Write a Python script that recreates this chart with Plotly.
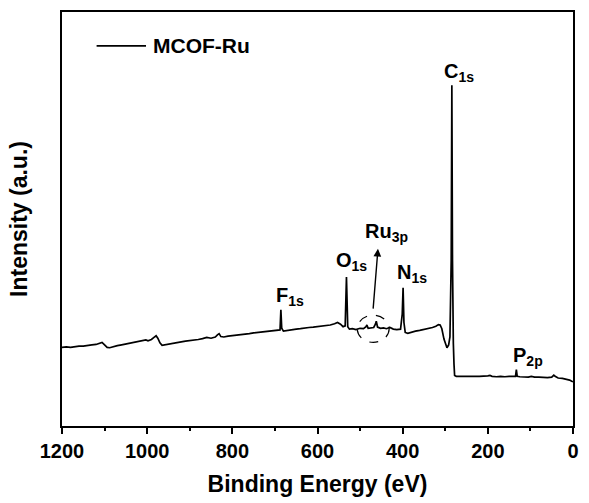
import plotly.graph_objects as go

# Binding energy (eV) and intensity (a.u., % of plot height)
energy = [1200, 1190, 1180, 1170, 1160, 1150, 1140, 1130, 1120, 1112, 1106, 1100, 1094, 1088,
          1080, 1070, 1060, 1050, 1040, 1030, 1020, 1010, 1003, 998, 990, 984, 979, 975, 970,
          965, 958, 950, 940, 930, 920, 910, 900, 890, 880, 870, 860, 850, 840, 835, 831, 827,
          820, 810, 800, 790, 780, 770, 760, 750, 740, 730, 720, 710, 700, 692, 688, 686, 684,
          680, 670, 660, 650, 640, 630, 620, 610, 600, 590, 580, 570, 560, 553, 546, 540, 535,
          532, 529, 525, 518, 510, 500, 492, 486, 484, 481, 475, 468, 464, 462, 459, 452, 445,
          438, 430, 422, 414, 405, 401, 399, 397, 394, 388, 380, 370, 360, 350, 340, 330, 322,
          316, 312, 308, 303, 299, 296, 292, 289, 286, 284.5, 283, 282, 281, 279.5, 278, 274,
          260, 240, 220, 200, 195, 190, 180, 170, 160, 150, 140, 135, 133, 131, 125, 115, 105,
          98, 90, 80, 70, 60, 50, 45, 42, 35, 25, 15, 8, 3, 0]
intensity = [19.0, 19.1, 19.0, 19.2, 19.3, 19.3, 19.5, 19.6, 19.7, 20.0, 20.2, 19.6, 19.0, 18.9,
             19.2, 19.4, 19.6, 19.8, 19.9, 20.1, 20.3, 20.5, 20.8, 20.6, 20.9, 21.4, 21.8, 21.2, 20.1,
             19.5, 19.6, 19.8, 20.0, 20.1, 20.3, 20.5, 20.6, 20.8, 20.9, 21.1, 21.4, 21.2, 21.5, 22.0, 22.3, 21.6,
             21.5, 21.7, 21.8, 22.0, 22.1, 22.2, 22.3, 22.5, 22.6, 22.7, 22.8, 22.9, 22.9, 23.0, 23.2, 28.1, 23.6,
             22.9, 23.1, 23.3, 23.4, 23.5, 23.7, 23.8, 23.9, 24.0, 24.1, 24.2, 24.4, 24.7, 25.0, 24.6, 24.0, 24.2,
             36.0, 24.0, 23.4, 23.5, 23.3, 23.6, 23.5, 24.0, 24.4, 23.6, 23.7, 23.8, 24.6, 25.3, 23.9, 23.6, 23.7,
             23.5, 23.8, 23.4, 23.3, 23.4, 27.0, 33.4, 25.0, 22.6, 22.4, 22.7, 22.9, 23.1, 23.3, 23.5, 23.8, 24.1,
             24.5, 24.4, 23.5, 21.0, 19.5, 18.9, 19.6, 21.5, 40.0, 82.3, 40.0, 24.0, 20.0, 15.0, 12.2, 12.0,
             12.0, 11.9, 12.0, 12.1, 12.2, 12.0, 11.9, 12.0, 11.9, 12.0, 11.9, 12.0, 13.6, 12.0, 11.9, 11.9, 11.8,
             12.0, 11.8, 11.8, 11.7, 11.7, 11.8, 12.3, 12.0, 11.6, 11.5, 11.3, 11.1, 10.8, 10.7]

# Peak labels: (html text, energy, intensity)
peak_text = ["C<sub>1s</sub>", "F<sub>1s</sub>", "O<sub>1s</sub>", "Ru<sub>3p</sub>", "N<sub>1s</sub>", "P<sub>2p</sub>"]
peak_x = [267, 664, 521, 437, 378, 105]
peak_y = [85.3, 31.4, 39.8, 46.7, 36.8, 16.7]

x_ticks = [1200, 1000, 800, 600, 400, 200, 0]
FONT = "Liberation Sans, Arial, sans-serif"

fig = go.Figure()
fig.add_trace(go.Scatter(x=energy, y=intensity, mode="lines", name="MCOF-Ru",
                         line=dict(color="black", width=1.7), showlegend=False))

for t, x, y in zip(peak_text, peak_x, peak_y):
    fig.add_annotation(x=x, y=y, xref="x", yref="y", text="<b>" + t + "</b>", showarrow=False,
                       font=dict(family=FONT, size=20, color="black"), xanchor="center", yanchor="middle")

# Arrow from the dashed circle towards the Ru label
fig.add_annotation(x=458, y=42.8, ax=469.6, ay=28.0, xref="x", yref="y", axref="x", ayref="y",
                   text="", showarrow=True, arrowhead=2, arrowsize=1.1, arrowwidth=1.4, arrowcolor="black")

# Dashed circle around Ru 3p peaks
fig.add_shape(type="circle", xref="x", yref="y", x0=506.7, x1=431.7, y0=20.2, y1=26.75,
              line=dict(color="black", width=1.2, dash="dash"))

# Manual legend
fig.add_shape(type="line", xref="paper", yref="paper", x0=0.0677, x1=0.1644, y0=0.918, y1=0.918,
              line=dict(color="black", width=1.7))
fig.add_annotation(xref="paper", yref="paper", x=0.174, y=0.918, text="<b>MCOF-Ru</b>", showarrow=False,
                   xanchor="left", yanchor="middle", font=dict(family=FONT, size=21, color="black"))

fig.update_xaxes(range=[1200, 0], tickvals=x_ticks, ticktext=["<b>%d</b>" % v for v in x_ticks],
                 ticks="outside", ticklen=6, tickwidth=2, tickcolor="black",
                 minor=dict(dtick=100, tick0=0, ticks="outside", ticklen=3, tickwidth=2, tickcolor="black"),
                 showline=True, linewidth=2, linecolor="black", mirror=True, showgrid=False, zeroline=False,
                 tickfont=dict(family=FONT, size=20, color="black"),
                 title=dict(text="<b>Binding Energy (eV)</b>", font=dict(family=FONT, size=23, color="black"),
                            standoff=15))
fig.update_yaxes(range=[0, 100], showticklabels=False, ticks="", showline=True, linewidth=2,
                 linecolor="black", mirror=True, showgrid=False, zeroline=False,
                 title=dict(text="<b>Intensity (a.u.)</b>", font=dict(family=FONT, size=23, color="black"),
                            standoff=26))
fig.update_layout(width=589, height=503, margin=dict(l=62, r=10, t=12, b=75),
                  plot_bgcolor="white", paper_bgcolor="white",
                  font=dict(family=FONT, color="black"))
fig.write_html("out.html")
